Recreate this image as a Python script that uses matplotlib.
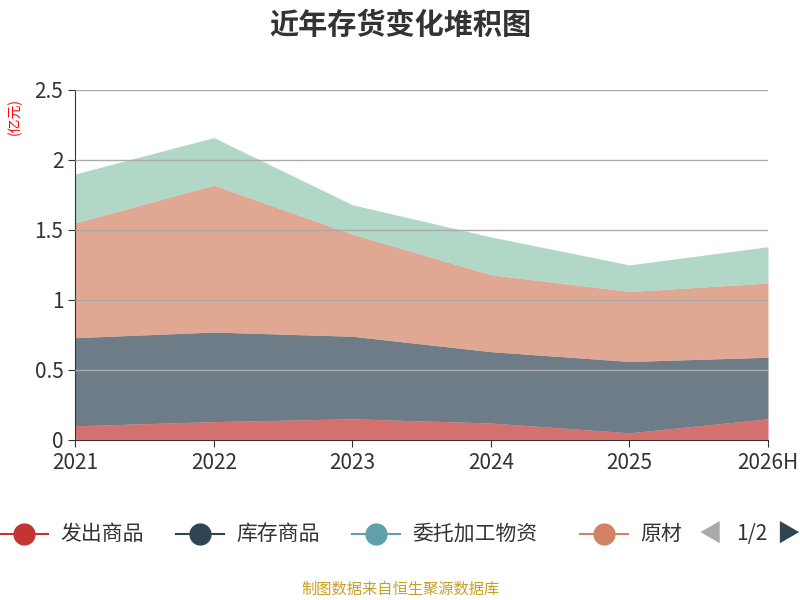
import matplotlib
matplotlib.use("Agg")
import matplotlib.pyplot as plt
import numpy as np

plt.rcParams['font.family'] = ['Noto Sans CJK SC', 'DejaVu Sans']

years = ["2021", "2022", "2023", "2024", "2025", "2026H"]
fachu = [0.10, 0.13, 0.15, 0.12, 0.05, 0.15]
kucun = [0.63, 0.64, 0.59, 0.51, 0.51, 0.44]
weituo = [0, 0, 0, 0, 0, 0]
yuancailiao = [0.82, 1.05, 0.73, 0.55, 0.50, 0.53]
zaichan = [0.35, 0.34, 0.21, 0.27, 0.19, 0.26]

names = ["发出商品", "库存商品", "委托加工物资", "原材料", "在产品"]
colors = ["#c23531", "#2f4554", "#61a0a8", "#d48265", "#91c7ae"]
series = [fachu, kucun, weituo, yuancailiao, zaichan]

fig = plt.figure(figsize=(8, 6), dpi=100)
ax = fig.add_axes([0.094, 0.267, 0.866, 0.583])
x = np.arange(len(years))
base = np.zeros(len(years))
for vals, c in zip(series, colors):
    top = base + np.array(vals)
    ax.fill_between(x, base, top, color=c, alpha=0.7, linewidth=0)
    base = top

ax.set_xlim(0, len(years) - 1)
ax.set_ylim(0, 2.5)
ax.set_xticks(x)
ax.set_xticklabels(years, fontsize=15, color="#333")
ax.set_yticks([0, 0.5, 1, 1.5, 2, 2.5])
ax.set_yticklabels(["0", "0.5", "1", "1.5", "2", "2.5"], fontsize=15, color="#333")
ax.grid(axis="y", color="#aaa", linewidth=1)
ax.set_axisbelow(False)
for s in ["top", "right"]:
    ax.spines[s].set_visible(False)
ax.spines["left"].set_color("#333")
ax.spines["bottom"].set_color("#333")
ax.tick_params(length=5, color="#333")

fig.text(0.5, 0.958, "近年存货变化堆积图", ha="center", va="center", fontsize=21, fontweight="bold", color="#333")
fig.text(0.018, 0.805, "(亿元)", rotation=90, ha="center", va="center", fontsize=10, color="red")

# legend (page 1)
lx = [0.0, 0.22, 0.44, 0.725]
for name, c, px in zip(names[:4], colors[:4], lx):
    fig.add_artist(plt.Line2D([px, px + 0.06], [0.11, 0.11], color=c, lw=1.5, transform=fig.transFigure))
    fig.add_artist(plt.Line2D([px + 0.03], [0.11], marker="o", markersize=15, color=c, transform=fig.transFigure))
    t = fig.text(px + 0.075, 0.11, name, ha="left", va="center", fontsize=15, color="#333")
    if name == "原材料":
        t.set_clip_box(matplotlib.transforms.Bbox.from_extents(0, 0, 682, 600))
        t.set_clip_on(True)
fig.text(0.888, 0.11, "◀", ha="center", va="center", fontsize=17, color="#aaa")
fig.text(0.94, 0.11, "1/2", ha="center", va="center", fontsize=15, color="#333")
fig.text(0.985, 0.11, "▶", ha="center", va="center", fontsize=17, color="#2f4554")

fig.text(0.5, 0.018, "制图数据来自恒生聚源数据库", ha="center", va="center", fontsize=11, color="#c8a020")

fig.savefig("out.png")
